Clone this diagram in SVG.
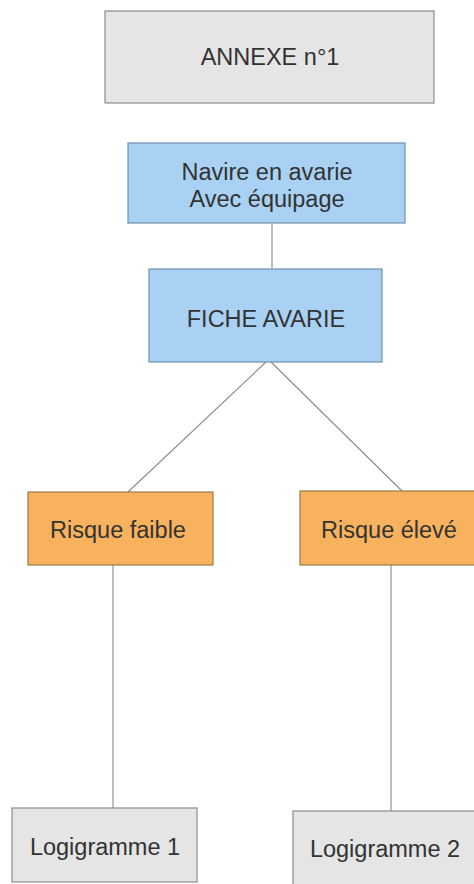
<svg xmlns="http://www.w3.org/2000/svg" width="474" height="884" viewBox="0 0 474 884">
  <style>
    .box { stroke-width: 1.2; }
    .grey { fill: #e5e5e5; stroke: #8c8c8c; }
    .blue { fill: #a9d1f4; stroke: #6f8fae; }
    .orange { fill: #f8b25e; stroke: #9c7a4c; }
    .label { font-family: "Liberation Sans", Arial, sans-serif; font-size: 23.5px; fill: #333333; text-anchor: middle; }
    .link { stroke: #8a8a8a; stroke-width: 1.1; fill: none; }
  </style>
  <rect width="474" height="884" fill="#ffffff"/>

  <!-- connectors -->
  <g id="connectors">
    <line class="link" x1="272" y1="223" x2="272" y2="269"/>
    <line class="link" x1="266" y1="362" x2="128" y2="492"/>
    <line class="link" x1="271" y1="362" x2="402" y2="491"/>
    <line class="link" x1="113" y1="565" x2="113" y2="808"/>
    <line class="link" x1="391" y1="565" x2="391" y2="811"/>
  </g>

  <g id="annexe">
    <rect class="box grey" x="105" y="11" width="329" height="92"/>
    <text class="label" x="270" y="65">ANNEXE n°1</text>
  </g>

  <g id="navire">
    <rect class="box blue" x="128" y="143" width="277" height="80"/>
    <text class="label" x="267" y="180">Navire en avarie</text>
    <text class="label" x="267" y="207">Avec équipage</text>
  </g>

  <g id="fiche">
    <rect class="box blue" x="149" y="269" width="233" height="93"/>
    <text class="label" x="266" y="327">FICHE AVARIE</text>
  </g>

  <g id="risque-faible">
    <rect class="box orange" x="28" y="492" width="185" height="73"/>
    <text class="label" x="118" y="538">Risque faible</text>
  </g>

  <g id="risque-eleve">
    <rect class="box orange" x="300" y="491" width="180" height="74"/>
    <text class="label" x="389" y="538">Risque élevé</text>
  </g>

  <g id="logigramme-1">
    <rect class="box grey" x="12" y="808" width="185" height="74"/>
    <text class="label" x="105" y="855">Logigramme 1</text>
  </g>

  <g id="logigramme-2">
    <rect class="box grey" x="293" y="811" width="187" height="80"/>
    <text class="label" x="385" y="857">Logigramme 2</text>
  </g>
</svg>
